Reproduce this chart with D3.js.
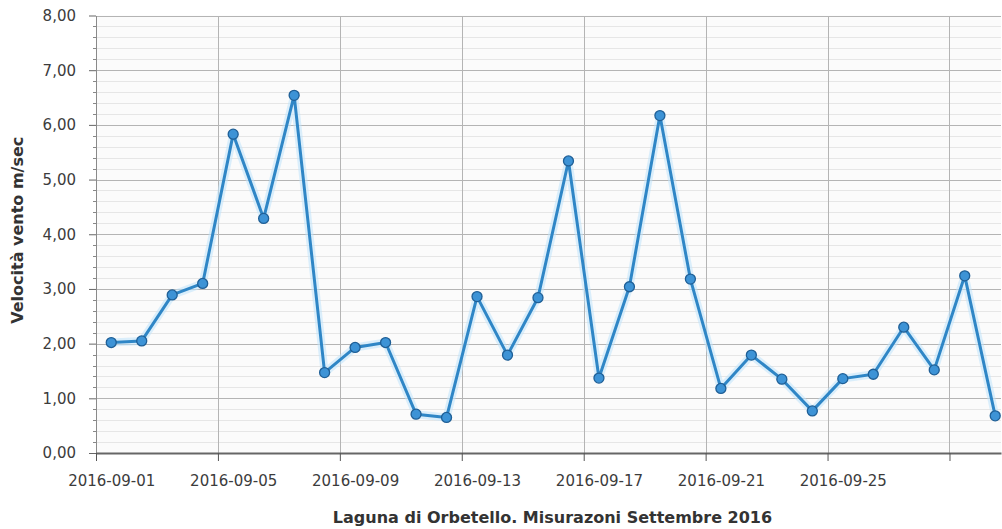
<!DOCTYPE html>
<html>
<head>
<meta charset="utf-8">
<script src="https://cdn.jsdelivr.net/npm/d3@7"></script>
<style>
  html, body { margin: 0; padding: 0; background: #fff; }
  svg { display: block; font-family: "DejaVu Sans", Verdana, sans-serif; }
</style>
</head>
<body>
<svg id="chart" width="1002" height="529"></svg>
<script>
// data: one reading a day, September 2016 (taken at midday)
const days = d3.range(1, 31).map(d => `2016-09-${String(d).padStart(2, "0")}`);
const speeds = [
    2.02, 2.05, 2.89, 3.10, 5.83, 4.29, 6.54, 1.47, 1.93, 2.02,
    0.71, 0.65, 2.86, 1.79, 2.84, 5.34, 1.37, 3.04, 6.17, 3.18,
    1.18, 1.79, 1.35, 0.77, 1.36, 1.44, 2.30, 1.52, 3.24, 0.68
];
const xTicks = ["2016-09-01", "2016-09-05", "2016-09-09", "2016-09-13", "2016-09-17", "2016-09-21", "2016-09-25", "2016-09-29"];
const xTickLabels = ["2016-09-01", "2016-09-05", "2016-09-09", "2016-09-13", "2016-09-17", "2016-09-21", "2016-09-25", ""];
const yTicks = [0, 1, 2, 3, 4, 5, 6, 7, 8];

const yTitle = "Velocità vento m/sec";
const xTitle = "Laguna di Orbetello. Misurazoni Settembre 2016";

const frame = { left: 96, right: 1001, top: 15.5, bottom: 453 };
const svg = d3.select("#chart");

const itLocale = d3.formatLocale({ decimal: ",", thousands: ".", grouping: [3], currency: ["", " €"] });
const fmt = itLocale.format(".2f");

const parseDay = d3.utcParse("%Y-%m-%d");
const start = parseDay("2016-09-01");
const end = new Date(start.getTime() + 29.69 * 864e5);

const x = d3.scaleUtc().domain([start, end]).range([frame.left, frame.right]);
const y = d3.scaleLinear().domain([0, 8]).range([frame.bottom, frame.top]);

const points = days.map((d, i) => ({
    date: new Date(parseDay(d).getTime() + 12 * 36e5),
    value: speeds[i]
}));

// plot background
svg.append("rect")
    .attr("x", frame.left).attr("y", frame.top)
    .attr("width", frame.right - frame.left).attr("height", frame.bottom - frame.top)
    .attr("fill", "#fbfbfb");

const grid = svg.append("g").attr("shape-rendering", "crispEdges");

// minor horizontal grid, every 0,2
const minor = d3.range(0, 8.001, 0.2).filter(v => Math.abs(v - Math.round(v)) > 1e-6);
grid.selectAll("line.minor").data(minor).join("line")
    .attr("class", "minor")
    .attr("x1", frame.left).attr("x2", frame.right)
    .attr("y1", d => Math.round(y(d)) + 0.5).attr("y2", d => Math.round(y(d)) + 0.5)
    .attr("stroke", "#e6e6e6");

grid.selectAll("line.major").data(yTicks.filter(v => v > 0)).join("line")
    .attr("class", "major")
    .attr("x1", frame.left).attr("x2", frame.right)
    .attr("y1", d => Math.round(y(d)) + 0.5).attr("y2", d => Math.round(y(d)) + 0.5)
    .attr("stroke", "#b4b4b4");

grid.selectAll("line.vert").data(xTicks.slice(1)).join("line")
    .attr("class", "vert")
    .attr("x1", d => Math.round(x(parseDay(d))) + 0.5).attr("x2", d => Math.round(x(parseDay(d))) + 0.5)
    .attr("y1", frame.top).attr("y2", frame.bottom)
    .attr("stroke", "#b4b4b4");

// y axis
const yAxis = svg.append("g")
    .attr("transform", `translate(${frame.left},0)`)
    .call(d3.axisLeft(y).tickValues(yTicks).tickFormat(fmt).tickSize(7).tickSizeOuter(0).tickPadding(13));
yAxis.select(".domain").attr("stroke", "#8a8a8a");
yAxis.selectAll(".tick line").attr("stroke", "#666");
yAxis.selectAll("text").attr("fill", "#3c3c3c").style("font-size", "15px")
    .style("font-family", "DejaVu Sans, sans-serif");

svg.append("g").selectAll("line").data(minor).join("line")
    .attr("x1", frame.left - 3).attr("x2", frame.left)
    .attr("y1", d => Math.round(y(d)) + 0.5).attr("y2", d => Math.round(y(d)) + 0.5)
    .attr("stroke", "#888");

// x axis
const xAxis = svg.append("g")
    .attr("transform", `translate(0,${frame.bottom})`)
    .call(d3.axisBottom(x)
        .tickValues(xTicks.map(parseDay))
        .tickFormat((d, i) => xTickLabels[i])
        .tickSize(8).tickSizeOuter(0).tickPadding(14));
xAxis.select(".domain").attr("stroke", "#666").attr("stroke-width", 2);
xAxis.selectAll(".tick line").attr("stroke", "#555");
xAxis.selectAll("text").attr("fill", "#3c3c3c").style("font-size", "15px")
    .style("font-family", "DejaVu Sans, sans-serif")
    .attr("dx", x(new Date(start.getTime() + 12 * 36e5)) - x(start));

// titles
svg.append("text")
    .attr("transform", `translate(23,${(frame.top + frame.bottom) / 2 - 4}) rotate(-90)`)
    .attr("text-anchor", "middle")
    .attr("font-weight", "bold").attr("font-size", 16).attr("fill", "#333")
    .text(yTitle);

svg.append("text")
    .attr("x", (frame.left + frame.right) / 2 + 4).attr("y", 523)
    .attr("text-anchor", "middle")
    .attr("font-weight", "bold").attr("font-size", 16).attr("fill", "#333")
    .text(xTitle);

// series
const line = d3.line().x(d => x(d.date)).y(d => y(d.value));

svg.append("path").datum(points)
    .attr("d", line).attr("fill", "none")
    .attr("stroke", "#bfe3fb").attr("stroke-width", 8).attr("stroke-opacity", 0.55)
    .attr("stroke-linejoin", "round");

svg.append("path").datum(points)
    .attr("d", line).attr("fill", "none")
    .attr("stroke", "#2f86c6").attr("stroke-width", 3)
    .attr("stroke-linejoin", "round");

svg.append("g").selectAll("circle").data(points).join("circle")
    .attr("cx", d => x(d.date)).attr("cy", d => y(d.value))
    .attr("r", 5)
    .attr("fill", "#3d93d6").attr("stroke", "#1f5f96").attr("stroke-width", 1.3);
</script>
</body>
</html>
